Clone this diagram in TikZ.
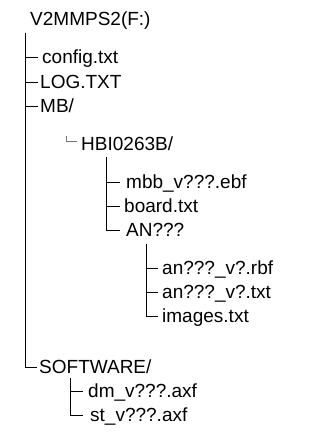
\documentclass[tikz,border=0pt]{standalone}
\usepackage{fontspec}
\setmainfont{Liberation Sans}
\begin{document}
\begin{tikzpicture}[x=1pt,y=-1pt,
  item/.style={anchor=west,inner xsep=3pt,inner ysep=0pt,text height=13.5pt,text depth=0pt,
    font=\fontsize{19}{23}\selectfont},
  branch/.style={line width=0.9pt,black},
  corner/.style={line width=0.8pt,black!55}]
\useasboundingbox (0,0) rectangle (330,436);

% root volume
\node[item] (root) at (27,19) {V2MMPS2(F:)};
\coordinate (rootTop) at (25,33);

% first level
\node[item,inner xsep=4pt] (config) at (38,57) {config.txt};
\node[item,inner xsep=2pt] (log) at (38,82) {LOG.TXT};
\node[item,inner xsep=2pt] (mb) at (38,106) {MB/};
\node[item,inner xsep=2pt] (soft) at (37,367) {SOFTWARE/};
\foreach \c in {config,log,mb,soft}
  \draw[branch] (rootTop) |- (\c.west);

% MB/ -> HBI0263B/
\coordinate (mbTop) at (66,136);
\node[item,inner xsep=4pt] (hbi) at (77,144) {HBI0263B/};
\draw[corner] (mbTop) |- ([yshift=3pt]hbi.west);

% HBI0263B/ contents
\coordinate (hbiTop) at (106,157);
\node[item,inner xsep=6pt] (mbb) at (120,182) {mbb\_v???.ebf};
\node[item,inner xsep=4pt] (board) at (120,206) {board.txt};
\node[item,inner xsep=6pt] (an) at (120,230) {AN???};
\foreach \c in {mbb,board,an}
  \draw[branch] (hbiTop) |- (\c.west);

% AN??? contents
\coordinate (anTop) at (146,244);
\node[item,inner xsep=4pt] (rbf) at (158,268) {an???\_v?.rbf};
\node[item,inner xsep=4pt] (txt) at (158,292) {an???\_v?.txt};
\node[item,inner xsep=4pt] (img) at (158,316) {images.txt};
\foreach \c in {rbf,txt,img}
  \draw[branch] (anTop) |- (\c.west);

% SOFTWARE/ contents
\coordinate (swTop) at (70,378);
\node[item,inner xsep=5pt] (dm) at (83,391) {dm\_v???.axf};
\node[item,inner xsep=7pt] (st) at (83,415) {st\_v???.axf};
\foreach \c in {dm,st}
  \draw[branch] (swTop) |- (\c.west);
\end{tikzpicture}
\end{document}
